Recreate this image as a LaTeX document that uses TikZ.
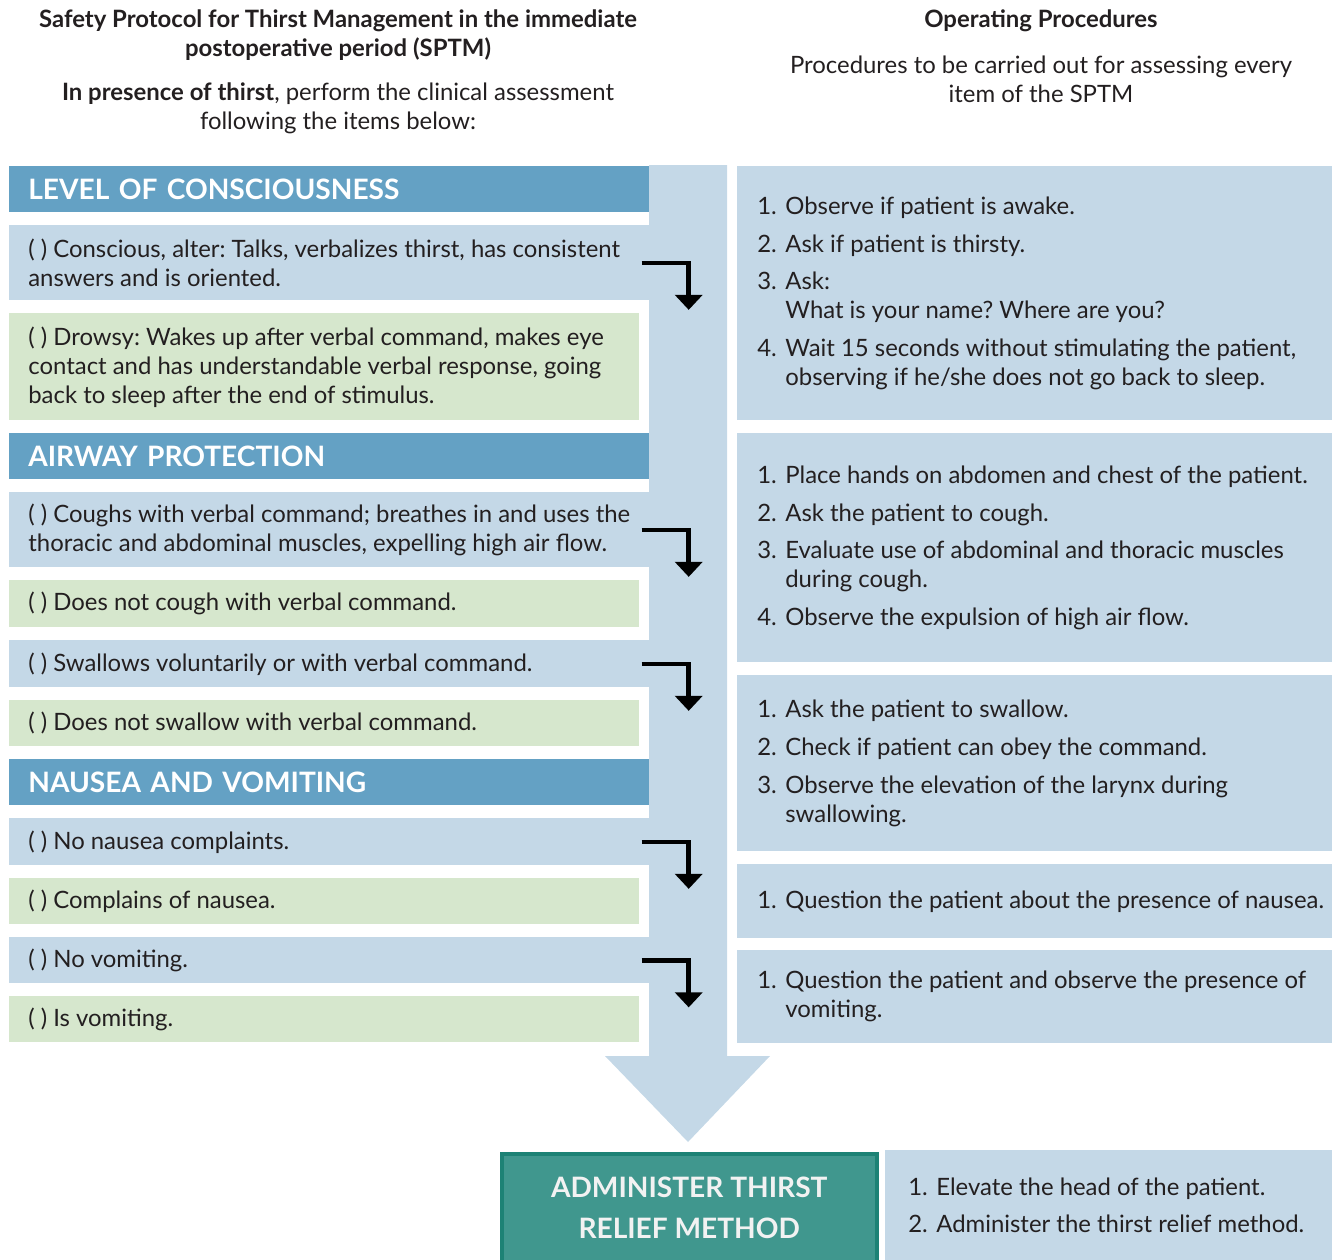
\documentclass[tikz,border=0pt]{standalone}
\usepackage{fontspec}
\setmainfont{Lato}
\usetikzlibrary{arrows.meta}

\definecolor{hdrblue}{HTML}{64A1C4}
\definecolor{lblue}{HTML}{C4D8E7}
\definecolor{lgreen}{HTML}{D6E7CD}
\definecolor{relteal}{HTML}{40978E}
\definecolor{relborder}{HTML}{1D8275}
\definecolor{ink}{HTML}{231F20}

\frenchspacing
\newcommand\bodyfont{\fontsize{13.6}{16.5}\selectfont}
\newcommand\itemno[1]{\makebox[5.6mm][l]{#1}}

\tikzset{
  hdr/.style={fill=hdrblue, anchor=north west, minimum height=9.2mm, text width=120.4mm,
    inner xsep=3.8mm, inner ysep=0pt, align=left, text=white, font=\fontsize{16}{19}\selectfont\bfseries},
  blurow/.style={fill=lblue, anchor=north west, minimum width=128mm, inner sep=0pt},
  grnrow/.style={fill=lgreen, anchor=north west, minimum width=126mm, inner sep=0pt},
  rowtext/.style={anchor=west, align=left, inner sep=0pt, font=\bodyfont, text=ink},
  procbox/.style={fill=lblue, anchor=north west, minimum width=119mm, inner sep=0pt},
  toptext/.style={align=center, inner sep=0pt, font=\bodyfont, text=ink},
  turn/.style={draw=black, line width=0.9mm, -{Triangle[width=5.4mm,length=3mm]}},
  relief/.style={fill=relteal, draw=relborder, line width=0.7mm, anchor=north west,
    minimum width=75mm, minimum height=21.6mm, align=center, text=white!95!black,
    font=\fontsize{16}{23.3}\selectfont\bfseries}
}

\begin{document}
\begin{tikzpicture}[x=0.2mm, y=-0.2mm]
  \useasboundingbox (0,0) rectangle (1332,1260);

  % headings
  \node[toptext] (ttl) at (338,35) {\bfseries Safety Protocol for Thirst Management in the immediate\\\bfseries postoperative period (SPTM)};
  \node[toptext] (intro) at (338,108) {\textbf{In presence of thirst}, perform the clinical assessment\\following the items below:};
  \node[toptext] (optl) at (1041,21) {\bfseries Operating Procedures};
  \node[toptext] (opsub) at (1041,79) {Procedures to be carried out for assessing every\\item of the SPTM};

  % vertical band with the big arrow
  \fill[lblue] (649,165) -- (727,165) -- (727,1056) -- (770,1056) -- (688,1142)
    -- (605,1056) -- (649,1056) -- cycle;

  % level of consciousness
  \node[hdr] (h1) at (9,166) {LEVEL OF CONSCIOUSNESS};
  \node[blurow, minimum height=15mm] (cons) at (9,225) {};
  \node[rowtext] (consT) at ([xshift=3.8mm]cons.west) {( ) Conscious, alter: Talks, verbalizes thirst, has consistent\\answers and is oriented.};
  \node[grnrow, minimum height=21.4mm] (drow) at (9,313) {};
  \node[rowtext] (drowT) at ([xshift=3.8mm]drow.west) {( ) Drowsy: Wakes up after verbal command, makes eye\\contact and has understandable verbal response, going\\back to sleep after the end of stimulus.};

  % airway protection
  \node[hdr] (h2) at (9,433) {AIRWAY PROTECTION};
  \node[blurow, minimum height=15mm] (cough) at (9,492) {};
  \node[rowtext] (coughT) at ([xshift=3.8mm]cough.west) {( ) Coughs with verbal command; breathes in and uses the\\thoracic and abdominal muscles, expelling high air flow.};
  \node[grnrow, minimum height=9.4mm] (nocough) at (9,580) {};
  \node[rowtext] (nocoughT) at ([xshift=3.8mm]nocough.west) {( ) Does not cough with verbal command.};
  \node[blurow, minimum height=9.4mm] (swal) at (9,640) {};
  \node[rowtext] (swalT) at ([xshift=3.8mm]swal.west) {( ) Swallows voluntarily or with verbal command.};
  \node[grnrow, minimum height=9.2mm] (noswal) at (9,700) {};
  \node[rowtext] (noswalT) at ([xshift=3.8mm]noswal.west) {( ) Does not swallow with verbal command.};

  % nausea and vomiting
  \node[hdr] (h3) at (9,759) {NAUSEA AND VOMITING};
  \node[blurow, minimum height=9.4mm] (nonau) at (9,818) {};
  \node[rowtext] (nonauT) at ([xshift=3.8mm]nonau.west) {( ) No nausea complaints.};
  \node[grnrow, minimum height=9.2mm] (nau) at (9,878) {};
  \node[rowtext] (nauT) at ([xshift=3.8mm]nau.west) {( ) Complains of nausea.};
  \node[blurow, minimum height=9.2mm] (novom) at (9,937) {};
  \node[rowtext] (novomT) at ([xshift=3.8mm]novom.west) {( ) No vomiting.};
  \node[grnrow, minimum height=9.2mm] (vom) at (9,996) {};
  \node[rowtext] (vomT) at ([xshift=3.8mm]vom.west) {( ) Is vomiting.};

  % small turn arrows
  \draw[turn] ([xshift=-1.6mm]cons.east) -| ++(47,47);
  \draw[turn] ([xshift=-1.6mm]cough.east) -| ++(47,47);
  \draw[turn] ([xshift=-1.6mm]swal.east) -| ++(47,47);
  \draw[turn] ([xshift=-1.6mm]nonau.east) -| ++(47,47);
  \draw[turn] ([xshift=-1.6mm]novom.east) -| ++(47,47);

  % operating procedures
  \node[procbox, minimum height=50.8mm] (p1) at (737,166) {};
  \node[rowtext] (p1T) at ([xshift=4mm]p1.west) {\itemno{1.}Observe if patient is awake.\\[5pt]
    \itemno{2.}Ask if patient is thirsty.\\[5pt]
    \itemno{3.}Ask:\\
    \itemno{}What is your name? Where are you?\\[5pt]
    \itemno{4.}Wait 15 seconds without stimulating the patient,\\
    \itemno{}observing if he/she does not go back to sleep.};
  \node[procbox, minimum height=45.8mm] (p2) at (737,433) {};
  \node[rowtext] (p2T) at ([xshift=4mm]p2.west) {\itemno{1.}Place hands on abdomen and chest of the patient.\\[5pt]
    \itemno{2.}Ask the patient to cough.\\[5pt]
    \itemno{3.}Evaluate use of abdominal and thoracic muscles\\
    \itemno{}during cough.\\[5pt]
    \itemno{4.}Observe the expulsion of high air flow.};
  \node[procbox, minimum height=35.2mm] (p3) at (737,675) {};
  \node[rowtext] (p3T) at ([xshift=4mm]p3.west) {\itemno{1.}Ask the patient to swallow.\\[5pt]
    \itemno{2.}Check if patient can obey the command.\\[5pt]
    \itemno{3.}Observe the elevation of the larynx during\\
    \itemno{}swallowing.};
  \node[procbox, minimum height=14.8mm] (p4) at (737,864) {};
  \node[rowtext] (p4T) at ([xshift=4mm]p4.west) {\itemno{1.}Question the patient about the presence of nausea.};
  \node[procbox, minimum height=18.6mm] (p5) at (737,950) {};
  \node[rowtext] (p5T) at ([xshift=4mm]p5.west) {\itemno{1.}Question the patient and observe the presence of\\
    \itemno{}vomiting.};

  % final step
  \node[relief] (rel) at (500,1152) {ADMINISTER THIRST\\RELIEF METHOD};
  \node[procbox, minimum width=89.4mm, minimum height=22mm] (p6) at (885,1150) {};
  \node[rowtext] (p6T) at ([xshift=4.6mm]p6.west) {\itemno{1.}Elevate the head of the patient.\\[5pt]
    \itemno{2.}Administer the thirst relief method.};
\end{tikzpicture}
\end{document}
